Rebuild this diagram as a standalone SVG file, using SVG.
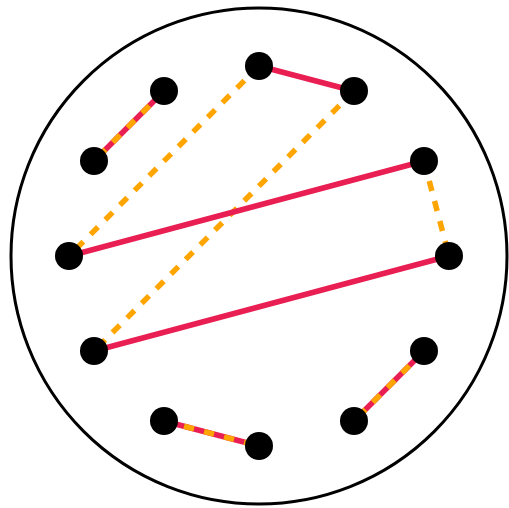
<svg xmlns="http://www.w3.org/2000/svg" width="509" height="508" viewBox="0 0 509 508">
<style>
.solid{stroke:#E91E52;stroke-width:5.5;fill:none}
.dash{stroke:#FFA500;stroke-width:5.5;stroke-dasharray:10.35 10.35;fill:none}
.node{fill:#000}
</style>
<rect width="509" height="508" fill="#fff"/>
<circle cx="259" cy="256" r="248" fill="none" stroke="#000" stroke-width="3"/>
<g id="connectors">
<line class="solid" x1="164" y1="91" x2="94" y2="161"/>
<line class="dash" x1="164" y1="91" x2="94" y2="161"/>
<line class="solid" x1="259" y1="66" x2="354" y2="91"/>
<line class="dash" x1="259" y1="66" x2="69" y2="256"/>
<line class="dash" x1="354" y1="91" x2="94" y2="351"/>
<line class="solid" x1="424" y1="161" x2="69" y2="256"/>
<line class="dash" x1="424" y1="161" x2="449" y2="256"/>
<line class="solid" x1="449" y1="256" x2="94" y2="351"/>
<line class="solid" x1="424" y1="351" x2="354" y2="421"/>
<line class="dash" x1="424" y1="351" x2="354" y2="421"/>
<line class="solid" x1="164" y1="421" x2="259" y2="446"/>
<line class="dash" x1="164" y1="421" x2="259" y2="446"/>
</g>
<g id="n0"><circle class="node" cx="449" cy="256" r="14"/></g>
<g id="n1"><circle class="node" cx="424" cy="161" r="14"/></g>
<g id="n2"><circle class="node" cx="354" cy="91" r="14"/></g>
<g id="n3"><circle class="node" cx="259" cy="66" r="14"/></g>
<g id="n4"><circle class="node" cx="164" cy="91" r="14"/></g>
<g id="n5"><circle class="node" cx="94" cy="161" r="14"/></g>
<g id="n6"><circle class="node" cx="69" cy="256" r="14"/></g>
<g id="n7"><circle class="node" cx="94" cy="351" r="14"/></g>
<g id="n8"><circle class="node" cx="164" cy="421" r="14"/></g>
<g id="n9"><circle class="node" cx="259" cy="446" r="14"/></g>
<g id="n10"><circle class="node" cx="354" cy="421" r="14"/></g>
<g id="n11"><circle class="node" cx="424" cy="351" r="14"/></g>
</svg>
